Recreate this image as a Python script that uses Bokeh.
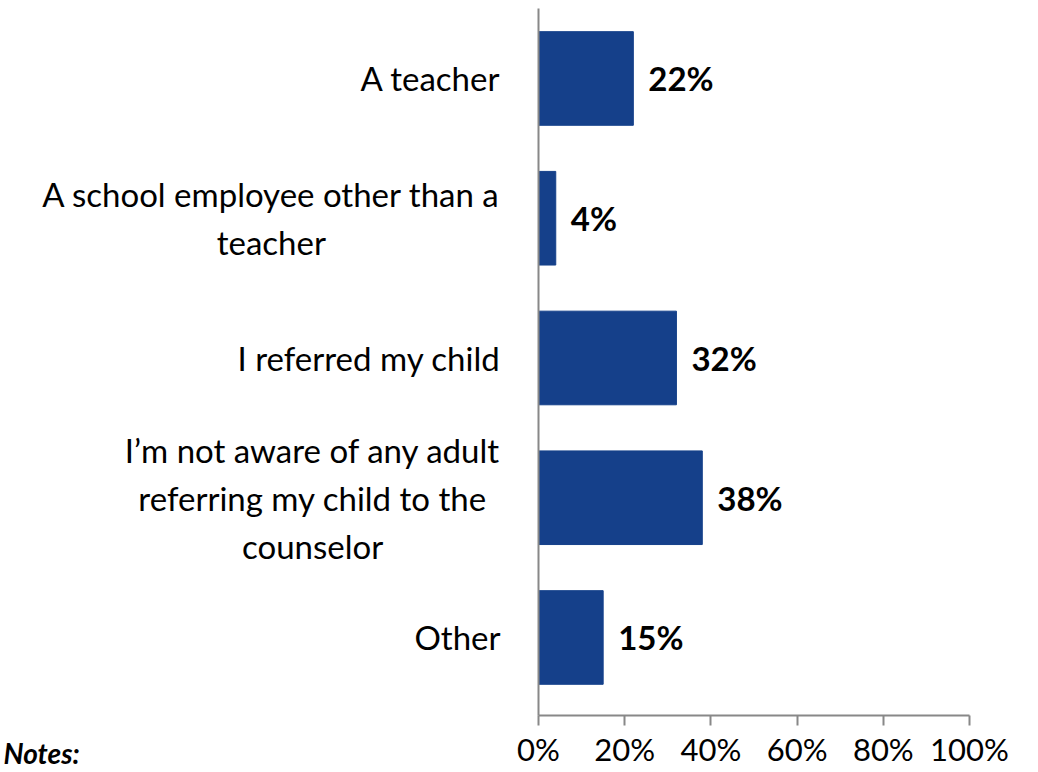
from bokeh.plotting import figure
from bokeh.models import ColumnDataSource, Range1d, FixedTicker, PrintfTickFormatter, LinearAxis, Label
from bokeh.core.properties import value
from bokeh.embed import file_html
from bokeh.resources import INLINE

categories = [
    "A teacher",
    "A school employee other than a\nteacher",
    "I referred my child",
    "I\u2019m not aware of any adult\nreferring my child to the\ncounselor",
    "Other",
]
values = [22, 4, 32, 38, 15]
tick_values = [0, 20, 40, 60, 80, 100]

FONT = "Lato"
BAR = "#15408A"
AXIS = "#888888"

n = len(categories)
pos = [n - 1 - i for i in range(n)]          # first category on top

src = ColumnDataSource(dict(
    cat=categories,
    pos=pos,
    val=values,
    lab=[f"{v}%" for v in values],
    zero=[0] * n,
))

# vertical extent: categories sit at 0..n-1; axis below the last band
axis_y = -0.558
top_y = n - 1 + 0.501

p = figure(
    width=1030, height=771,
    x_range=Range1d(-124.83, 114.15),
    y_range=Range1d(-0.959, n - 1 + 0.558),
    x_axis_type=None, y_axis_type=None,
    output_backend="svg", toolbar_location=None,
    min_border_left=0, min_border_right=0, min_border_top=0, min_border_bottom=0,
)
p.outline_line_color = None

p.hbar(y="pos", right="val", left=0, height=0.67, source=src, fill_color=BAR, line_color=BAR)

# value labels
p.text(x="val", y="pos", text="lab", source=src, x_offset=15,
       text_font=value(FONT), text_font_size="33px", text_font_style="bold",
       text_color="black", text_align="left", text_baseline="middle")

# category labels (lines centred within a right-anchored block)
p.text(x="zero", y="pos", text="cat", source=src, x_offset=-38,
       text_font=value(FONT), text_font_size="33px",
       text_color="black", text_align="center", text_baseline="middle",
       anchor="center_right", text_line_height=1.2)

# category axis: a bare vertical line at x = 0
yax = LinearAxis(fixed_location=0, bounds=(axis_y, top_y), ticker=FixedTicker(ticks=[]))
yax.axis_line_color = AXIS
yax.axis_line_width = 2
yax.major_tick_line_color = None
yax.minor_tick_line_color = None
yax.major_label_text_font_size = "0px"
p.add_layout(yax, "left")

# value axis
ax = LinearAxis(fixed_location=axis_y, bounds=(0, 100), ticker=FixedTicker(ticks=tick_values),
                formatter=PrintfTickFormatter(format="%d%%"))
ax.axis_line_color = AXIS
ax.axis_line_width = 2
ax.major_tick_line_color = AXIS
ax.major_tick_line_width = 2
ax.major_tick_in = 0
ax.major_tick_out = 10
ax.minor_tick_line_color = None
ax.major_label_text_font = FONT
ax.major_label_text_font_size = "31px"
ax.major_label_text_color = "black"
ax.major_label_standoff = 5
p.add_layout(ax, "below")

p.add_layout(Label(x=-124.83, y=-0.83, x_offset=3, text="Notes:",
                   text_font=FONT, text_font_size="28px", text_font_style="bold italic",
                   text_color="black", text_baseline="middle", text_align="left"))

open("out.html", "w").write(file_html(p, INLINE))
